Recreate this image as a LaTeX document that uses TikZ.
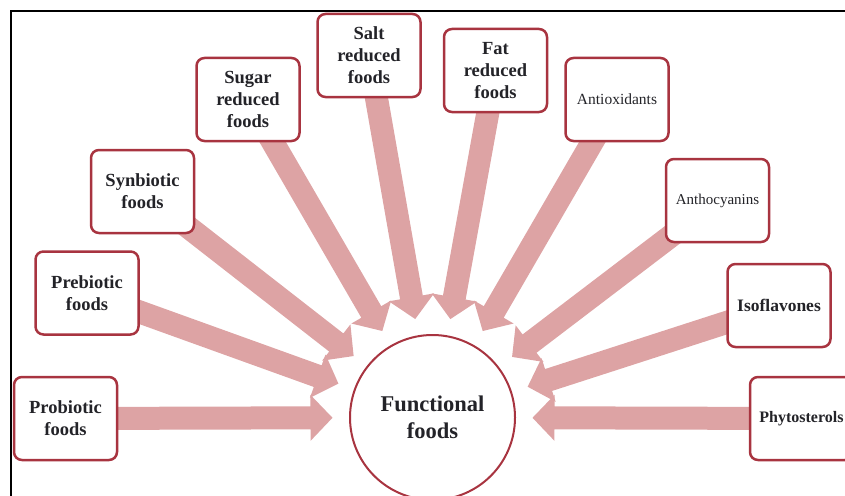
\documentclass[tikz,border=0pt]{standalone}
\usepackage{fontspec}
\setmainfont{Liberation Serif}
\usetikzlibrary{calc,backgrounds}
\definecolor{arrowpink}{RGB}{221,163,164}
\definecolor{boxred}{RGB}{168,52,64}
\definecolor{txt}{RGB}{35,35,40}
\tikzset{
  fbox/.style={draw=boxred, line width=2.5pt, rounded corners=8pt, fill=white,
    minimum width=103pt, minimum height=83pt, align=center, text=txt,
    font=\fontsize{18.5}{22}\selectfont\bfseries, inner sep=1pt},
  smallbox/.style={fbox, font=\fontsize{15.5}{17}\selectfont},
  midbox/.style={fbox, font=\fontsize{17.5}{19}\selectfont\bfseries},
  centre/.style={circle, draw=boxred, line width=2pt, fill=white, minimum size=165pt,
    align=center, text=txt, font=\fontsize{22.5}{27}\selectfont\bfseries, inner sep=0pt},
  frameline/.style={line width=2pt, black}
}
\newcommand\fatarr[1]{%
  \path (#1.center) coordinate (fa-a) ($(ff.center)!100pt!(#1.center)$) coordinate (fa-b);
  \path ($(fa-b)!22pt!(fa-a)$) coordinate (fa-c);
  \fill[arrowpink] ($(fa-a)!11.5pt!90:(fa-b)$) -- ($(fa-c)!11.5pt!90:(fa-b)$)
    -- ($(fa-c)!23pt!90:(fa-b)$) -- (fa-b) -- ($(fa-c)!23pt!-90:(fa-b)$)
    -- ($(fa-c)!11.5pt!-90:(fa-b)$) -- ($(fa-a)!11.5pt!-90:(fa-b)$) -- cycle;
}
\begin{document}
\begin{tikzpicture}[x=1pt, y=-1pt]
\useasboundingbox (0,0) rectangle (845,495);
\draw[frameline] (11,496) -- (11,11) -- (846,11);

\node[centre] (ff) at (432.5,417.5) {Functional\\foods};

\node[fbox] (pro) at (65.5,418.5) {Probiotic\\foods};
\node[fbox] (pre) at (87,293) {Prebiotic\\foods};
\node[fbox] (syn) at (142.5,191.5) {Synbiotic\\foods};
\node[fbox] (sug) at (248,99.5) {Sugar\\reduced\\foods};
\node[fbox] (salt) at (369,55.5) {Salt\\reduced\\foods};
\node[fbox] (fat) at (495.5,70.5) {Fat\\reduced\\foods};
\node[smallbox] (anti) at (617,99.5) {Antioxidants};
\node[smallbox, font=\fontsize{15}{17}\selectfont] (antho) at (717.5,200.5) {Anthocyanins};
\node[midbox] (iso) at (779,305.5) {Isoflavones};
\node[midbox, font=\fontsize{16}{18}\selectfont\bfseries] (phy) at (801.5,418.5) {Phytosterols};

\begin{scope}[on background layer]
  \foreach \n in {pro,pre,syn,sug,salt,fat,anti,antho,iso,phy} {\fatarr{\n}}
\end{scope}
\end{tikzpicture}
\end{document}
